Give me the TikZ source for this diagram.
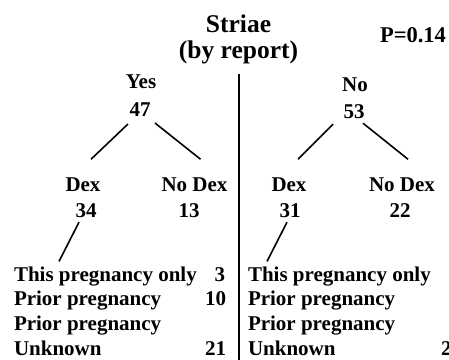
\documentclass[tikz,border=0pt]{standalone}
\usepackage{fontspec}
\setmainfont{Liberation Serif}
\usetikzlibrary{calc}
\tikzset{
  txt/.style={font=\fontsize{21}{25}\selectfont\bfseries, inner sep=0pt, outer sep=0pt},
  rowtxt/.style={font=\fontsize{21}{25}\selectfont\bfseries, inner sep=0pt, outer sep=0pt},
  ttl/.style={font=\fontsize{25.5}{30}\selectfont\bfseries, inner sep=0pt, outer sep=0pt},
  pval/.style={font=\fontsize{22.5}{27}\selectfont\bfseries, inner sep=0pt, outer sep=0pt},
  branch/.style={line width=1.6pt},
  divider/.style={line width=2pt}
}
\begin{document}
\begin{tikzpicture}[x=1pt,y=1pt,yscale=-1]
\useasboundingbox[fill=white] (0,0) rectangle (449,359);
% title
\node[ttl, anchor=base] (t1) at (238.5,32) {Striae};
\node[ttl, anchor=base] (t2) at (238.5,58) {(by report)};
\node[pval, anchor=base] (p) at (413,42) {P=0.14};
% level 1
\node[txt, anchor=base] (yes) at (141,88) {Yes};
\node[txt, anchor=base] (n47) at (140,116) {47};
\node[txt, anchor=base] (no) at (355,91) {No};
\node[txt, anchor=base] (n53) at (354,118) {53};
% level 2
\node[txt, anchor=base] (dexL) at (83,191) {Dex};
\node[txt, anchor=base] (n34) at (86,217) {34};
\node[txt, anchor=base] (ndexL) at (194.5,191) {No Dex};
\node[txt, anchor=base] (n13) at (189,217) {13};
\node[txt, anchor=base] (dexR) at (289,191) {Dex};
\node[txt, anchor=base] (n31) at (290,217) {31};
\node[txt, anchor=base] (ndexR) at (402,191) {No Dex};
\node[txt, anchor=base] (n22) at (400,217) {22};
% rows left
\node[rowtxt, anchor=base west] (l1) at (14,281) {This pregnancy only};
\node[rowtxt, anchor=base west] (l2) at (14,305) {Prior pregnancy};
\node[rowtxt, anchor=base west] (l3) at (14,330.5) {Prior pregnancy};
\node[rowtxt, anchor=base west] (l4) at (14,355) {Unknown};
\node[rowtxt, anchor=base east] (v1) at (225,281) {3};
\node[rowtxt, anchor=base east] (v2) at (226,305) {10};
\node[rowtxt, anchor=base east] (v4) at (226,355) {21};
% rows right
\node[rowtxt, anchor=base west] (r1) at (248,281) {This pregnancy only};
\node[rowtxt, anchor=base west] (r2) at (248,305) {Prior pregnancy};
\node[rowtxt, anchor=base west] (r3) at (248,330.5) {Prior pregnancy};
\node[rowtxt, anchor=base west] (r4) at (248,355) {Unknown};
\node[rowtxt, anchor=base west] (w4) at (441,355) {2};
% divider
\coordinate (bot) at (238.5,362);
\draw[divider] ($(t2.south)+(0,10)$) -- (bot);
% branches
\draw[branch] ($(n47.south)+(-12,8)$) -- ($(dexL.north)+(8,-18)$);
\draw[branch] ($(n47.south)+(15,7)$) -- ($(ndexL.north)+(6,-18)$);
\draw[branch] ($(n53.south)+(-21,6)$) -- ($(dexR.north)+(9,-18)$);
\draw[branch] ($(n53.south)+(9,5)$) -- ($(ndexR.north)+(6,-18)$);
\draw[branch] ($(n34.south)+(-7,5)$) -- ($(l1.north west)+(45,-5)$);
\draw[branch] ($(n31.south)+(-3,5)$) -- ($(r1.north west)+(19,-5)$);
\end{tikzpicture}
\end{document}
